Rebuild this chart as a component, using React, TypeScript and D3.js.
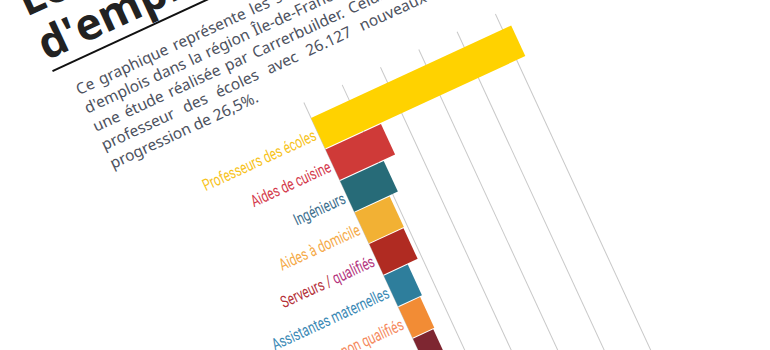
import React from "react";
import * as d3 from "d3";

// values (new jobs per trade)
const categories = [
  "Professeurs des écoles",
  "Aides de cuisine",
  "Ingénieurs",
  "Aides à domicile",
  "Serveurs / qualifiés",
  "Assistantes maternelles",
  "Ouvriers non qualifiés",
  "Agents d'entretien",
];
const values = [26127, 7230, 5690, 4570, 4470, 3130, 2840, 2650];
const barColors = ["#FFD200", "#CF3A38", "#276B78", "#F2B134", "#B02B22", "#2E7E9C", "#F28C35", "#7E2631"];
const labelColors = ["#F7C31C", "#D43A4C", "#3D6F8E", "#F5AA48", "#B5323A", "#3A89B5", "#F58A5E", "#8A2A3A"];
const gridTicks = [0, 5000, 10000, 15000, 20000, 25000];

const titleLines = ["Les métiers créateurs", "d'emplois en Île-de-France"];
const introLines = [
  "Ce graphique représente les secteurs qui ont créé le plus",
  "d'emplois dans la région Île-de-France en 2013 selon",
  "une étude réalisée par Carrerbuilder. Celui qui arrive en tête est",
  "professeur des écoles avec 26.127 nouveaux postes, soit une",
  "progression de 26,5%.",
];
const introSpacing = [2, 1, 2, 6.5, 0];

export default function App() {
  const width = 770;
  const height = 350;
  const angle = -24.8;
  const origin = { x: 311, y: 118 };

  const x = d3.scaleLinear().domain([0, 25000]).range([0, 211]);
  const y = d3
    .scaleBand<string>()
    .domain(categories)
    .range([0, 34.6 * categories.length])
    .paddingInner(0.03);

  return (
    <svg
      width={width}
      height={height}
      style={{ position: "absolute", left: 0, top: 0, background: "#fff" }}
    >
      <g transform={`translate(${origin.x},${origin.y}) rotate(${angle})`}>
        {/* title */}
        {titleLines.map((t, i) => (
          <text
            key={t}
            x={-216}
            y={-211 + i * 48}
            fontFamily="'Open Sans', 'Noto Sans', sans-serif"
            fontWeight={700}
            fontSize={44}
            fill="#222"
          >
            {t}
          </text>
        ))}
        <line x1={-215} x2={120} y1={-151} y2={-151} stroke="#111" strokeWidth={2} />

        {/* intro paragraph */}
        {introLines.map((t, i) => (
          <text
            key={i}
            x={-201}
            y={-118 + i * 20.3}
            fontFamily="'Noto Sans', 'Open Sans', sans-serif"
            fontSize={15.5}
            fill="#4D5260"
            style={{ wordSpacing: `${introSpacing[i]}px` }}
          >
            {t}
          </text>
        ))}

        {/* grid */}
        {gridTicks.map((d) => (
          <line
            key={d}
            x1={x(d)}
            x2={x(d)}
            y1={-17}
            y2={700}
            stroke="#c9c9c9"
            strokeWidth={1}
          />
        ))}

        {/* bars */}
        {categories.map((c, i) => (
          <rect
            key={c}
            x={x(0)}
            y={y(c)}
            width={x(values[i]) - x(0)}
            height={y.bandwidth()}
            fill={barColors[i]}
          />
        ))}

        {/* labels */}
        {categories.map((c, i) => {
          const cy = (y(c) ?? 0) + y.bandwidth() / 2 + 5.5;
          const parts = c === "Serveurs / qualifiés" ? ["Serveurs / ", "qualifiés"] : [c];
          return (
            <text
              key={c}
              transform={`translate(-3,${cy}) scale(0.72,1)`}
              textAnchor="end"
              fontFamily="Roboto, 'Noto Sans', sans-serif"
              fontSize={16.5}
              fill={labelColors[i]}
            >
              {parts.map((p, j) => (
                <tspan key={j} fill={j === 1 ? "#B4357E" : labelColors[i]}>
                  {p}
                </tspan>
              ))}
            </text>
          );
        })}
      </g>
    </svg>
  );
}
